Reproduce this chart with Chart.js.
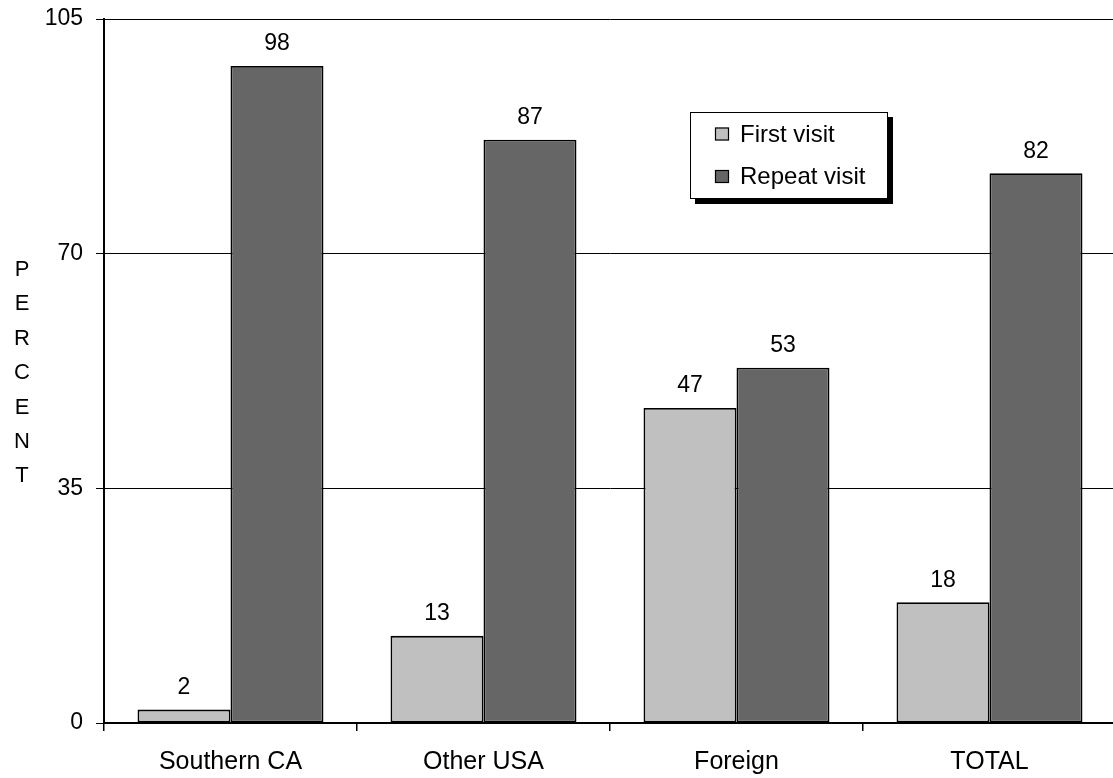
<!DOCTYPE html>
<html>
<head>
<meta charset="utf-8">
<script src="https://cdn.jsdelivr.net/npm/chart.js@4/dist/chart.umd.min.js"></script>
<style>
  html, body { margin: 0; padding: 0; background: #fff; overflow: hidden; }
  #wrap { position: relative; width: 1120px; height: 778px; }
</style>
</head>
<body>
<div id="wrap"><canvas id="c" width="1120" height="778"></canvas></div>
<script>
// Visitor origin vs. visit type
const categories = ['Southern CA', 'Other USA', 'Foreign', 'TOTAL'];
const firstVisit = [2, 13, 47, 18];
const repeatVisit = [98, 87, 53, 82];
const seriesNames = ['First visit', 'Repeat visit'];
const yTicks = [0, 35, 70, 105];
const axisTitle = 'PERCENT';

const FONT = '"Liberation Sans", Arial, sans-serif';
const colors = ['#C0C0C0', '#666666'];

// Value labels above each bar
const valueLabels = {
  id: 'valueLabels',
  afterDatasetsDraw(chart) {
    const ctx = chart.ctx;
    ctx.save();
    ctx.font = '23px ' + FONT;
    ctx.fillStyle = '#000';
    ctx.textAlign = 'center';
    ctx.textBaseline = 'middle';
    chart.data.datasets.forEach((ds, i) => {
      chart.getDatasetMeta(i).data.forEach((bar, j) => {
        ctx.fillText(String(ds.data[j]), bar.x, bar.y - 22);
      });
    });
    ctx.restore();
  }
};

// Stacked-letter axis title and boxed legend with a drop shadow
const decorations = {
  id: 'decorations',
  afterDraw(chart) {
    const ctx = chart.ctx;
    ctx.save();
    ctx.font = '22px ' + FONT;
    ctx.fillStyle = '#000';
    ctx.textAlign = 'center';
    ctx.textBaseline = 'middle';
    axisTitle.split('').forEach((ch, i) => ctx.fillText(ch, 22, 270 + i * 34.4));

    // legend box
    const bx = 690, by = 112, bw = 197, bh = 86;
    ctx.fillStyle = '#000';
    ctx.fillRect(bx + 5, by + 5, bw + 1, bh + 1);
    ctx.fillStyle = '#fff';
    ctx.fillRect(bx, by, bw, bh);
    ctx.strokeStyle = '#000';
    ctx.lineWidth = 1;
    ctx.strokeRect(bx + 0.5, by + 0.5, bw, bh);
    ctx.font = '24px ' + FONT;
    ctx.textAlign = 'left';
    chart.data.datasets.forEach((ds, i) => {
      const cy = by + 22 + i * 42.5;
      ctx.fillStyle = ds.backgroundColor;
      ctx.fillRect(bx + 25, cy - 6.5, 14, 13);
      ctx.strokeStyle = '#000';
      ctx.lineWidth = 1.2;
      ctx.strokeRect(bx + 25.5, cy - 6, 13, 12);
      ctx.fillStyle = '#000';
      ctx.fillText(ds.label, bx + 50, cy + 1);
    });
    ctx.restore();
  }
};

new Chart(document.getElementById('c'), {
  type: 'bar',
  data: {
    labels: categories,
    datasets: [
      { label: seriesNames[0], data: firstVisit, backgroundColor: colors[0], borderColor: '#000', borderWidth: 1.8, borderSkipped: false },
      { label: seriesNames[1], data: repeatVisit, backgroundColor: colors[1], borderColor: '#000', borderWidth: 1.8, borderSkipped: false }
    ]
  },
  options: {
    responsive: false,
    animation: false,
    devicePixelRatio: 1,
    layout: { padding: { top: 19, left: 0, right: 4, bottom: 0 } },
    datasets: { bar: { categoryPercentage: 0.735, barPercentage: 1.0 } },
    plugins: {
      legend: { display: false },
      tooltip: { enabled: false }
    },
    scales: {
      x: {
        grid: { offset: true, drawOnChartArea: false, drawTicks: true, tickLength: 8, color: '#000', lineWidth: 1.5 },
        border: { color: '#000', width: 2 },
        ticks: { color: '#000', font: { size: 25, family: FONT }, padding: 16, maxRotation: 0 },
        afterFit(scale) {
          scale.height = 55;
          scale.paddingLeft = 0; scale.paddingRight = 0;
        }
      },
      y: {
        min: 0, max: 105,
        afterBuildTicks(scale) { scale.ticks = yTicks.map(v => ({ value: v })); },
        grid: { color: '#000', lineWidth: 1, tickLength: 8, drawTicks: true },
        border: { color: '#000', width: 2 },
        ticks: { color: '#000', font: { size: 23, family: FONT }, padding: 13 },
        afterFit(scale) {
          scale.width = 104;
          scale.paddingTop = 0; scale.paddingBottom = 0;
        }
      }
    }
  },
  plugins: [valueLabels, decorations]
});
</script>
</body>
</html>
